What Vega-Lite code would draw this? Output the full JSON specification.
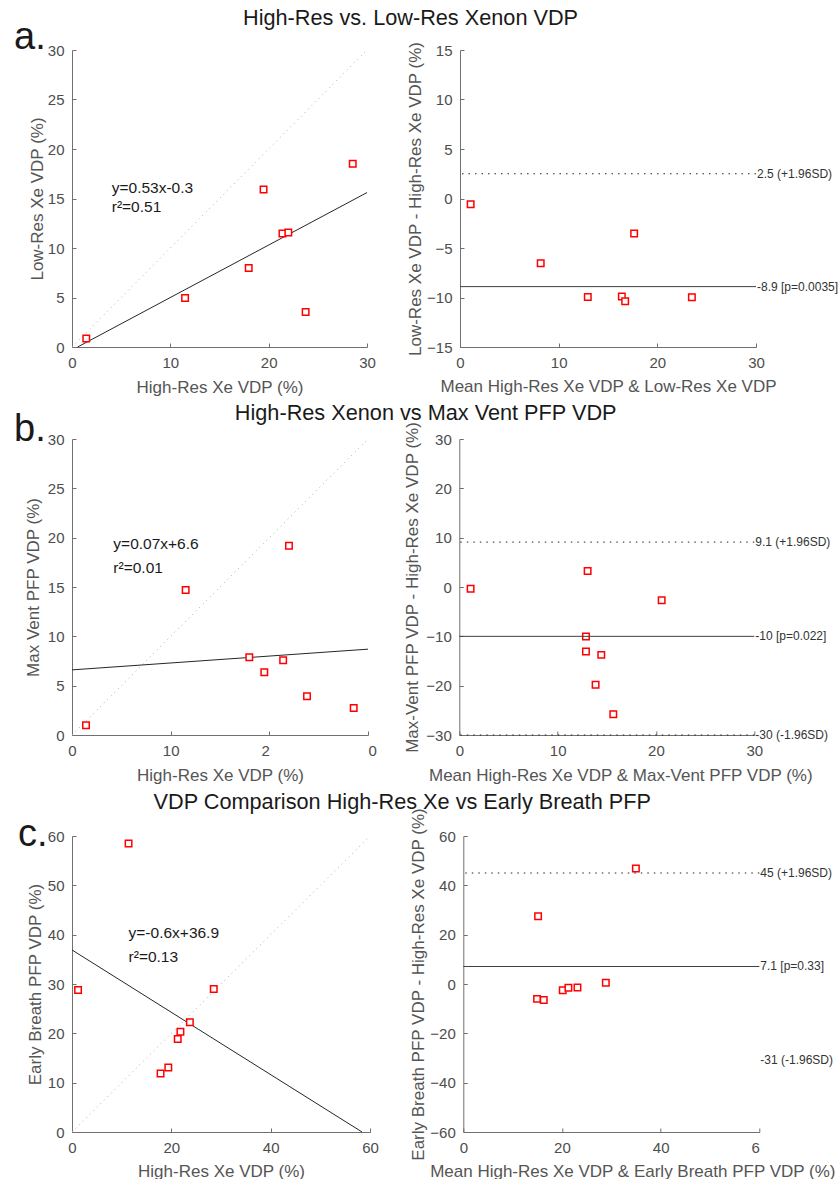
{
  "$schema": "https://vega.github.io/schema/vega-lite/v6.json",
  "padding": {"left": 14, "top": 8, "right": 0, "bottom": 0},
  "config": {
    "font": "Liberation Sans",
    "view": {"stroke": null},
    "axis": {
      "domainColor": "#707070", "tickColor": "#707070", "tickSize": -4,
      "labelColor": "#4d4d4d", "titleColor": "#555555",
      "labelFontSize": 15, "titleFontSize": 17, "titleFontWeight": "normal",
      "grid": false, "labelFlush": false, "labelOverlap": false, "labelPadding": 12
    },
    "axisX": {"titlePadding": 6.5},
    "axisY": {"titlePadding": 4},
    "title": {"fontWeight": "normal", "color": "#1a1a1a"},
    "text": {"font": "Liberation Sans"}
  },
  "datasets": {
    "identity_30": [{"x": 0, "y": 0}, {"x": 30, "y": 30}],
    "identity_60": [{"x": 0, "y": 0}, {"x": 60, "y": 60}],
    "xe_low": [
      {"high_res": 1.45, "low_res": 0.85}, {"high_res": 11.5, "low_res": 4.96},
      {"high_res": 17.97, "low_res": 7.99}, {"high_res": 19.48, "low_res": 15.9},
      {"high_res": 21.4, "low_res": 11.47}, {"high_res": 22.0, "low_res": 11.57},
      {"high_res": 23.76, "low_res": 3.54}, {"high_res": 28.55, "low_res": 18.5}
    ],
    "xe_low_fit": [{"x": 0.57, "y": 0}, {"x": 30, "y": 15.6}],
    "xe_low_stats": [{"equation": "y=0.53x-0.3", "r_squared": "r²=0.51"}],
    "xe_low_ba": [
      {"mean": 1.08, "diff": -0.58}, {"mean": 8.18, "diff": -6.54},
      {"mean": 12.95, "diff": -9.95}, {"mean": 16.4, "diff": -9.91},
      {"mean": 16.74, "diff": -10.38}, {"mean": 17.65, "diff": -3.54},
      {"mean": 23.5, "diff": -9.98}
    ],
    "xe_low_limits": [{"value": 2.5, "label": "2.5 (+1.96SD)"}],
    "xe_low_mean": [{"value": -8.9, "label": "-8.9 [p=0.0035]"}],
    "vent": [
      {"high_res": 1.42, "max_vent": 0.99}, {"high_res": 11.52, "max_vent": 14.7},
      {"high_res": 17.97, "max_vent": 7.87}, {"high_res": 19.49, "max_vent": 6.35},
      {"high_res": 21.4, "max_vent": 7.57}, {"high_res": 21.99, "max_vent": 19.19},
      {"high_res": 23.82, "max_vent": 3.92}, {"high_res": 28.55, "max_vent": 2.74}
    ],
    "vent_fit": [{"x": 0, "y": 6.6}, {"x": 30, "y": 8.7}],
    "vent_stats": [{"equation": "y=0.07x+6.6", "r_squared": "r²=0.01"}],
    "vent_ba": [
      {"mean": 1.15, "diff": -0.37}, {"mean": 13.05, "diff": 3.23},
      {"mean": 12.88, "diff": -10.02}, {"mean": 12.88, "diff": -13.08},
      {"mean": 14.44, "diff": -13.76}, {"mean": 13.86, "diff": -19.8},
      {"mean": 15.66, "diff": -25.8}, {"mean": 20.58, "diff": -2.68}
    ],
    "vent_limits": [{"value": 9.1, "label": "9.1 (+1.96SD)"}, {"value": -30, "label": "-30 (-1.96SD)"}],
    "vent_mean": [{"value": -10, "label": "-10 [p=0.022]"}],
    "early": [
      {"high_res": 1.22, "early_breath": 28.8}, {"high_res": 11.39, "early_breath": 58.5},
      {"high_res": 17.83, "early_breath": 11.86}, {"high_res": 19.39, "early_breath": 13.08},
      {"high_res": 21.29, "early_breath": 18.85}, {"high_res": 21.83, "early_breath": 20.34},
      {"high_res": 23.73, "early_breath": 22.24}, {"high_res": 28.54, "early_breath": 29.0}
    ],
    "early_fit": [{"x": 0, "y": 36.9}, {"x": 58.4, "y": 0}],
    "early_stats": [{"equation": "y=-0.6x+36.9", "r_squared": "r²=0.13"}],
    "early_ba": [
      {"mean": 34.98, "diff": 46.85}, {"mean": 15.16, "diff": 27.46},
      {"mean": 14.95, "diff": -6.03}, {"mean": 16.31, "diff": -6.44},
      {"mean": 20.16, "diff": -2.51}, {"mean": 21.31, "diff": -1.56},
      {"mean": 23.14, "diff": -1.42}, {"mean": 28.89, "diff": 0.47}
    ],
    "early_limit_lines": [{"value": 45, "label": "45 (+1.96SD)"}],
    "early_limit_labels": [{"value": 45, "label": "45 (+1.96SD)"}, {"value": -31, "label": "-31 (-1.96SD)"}],
    "early_mean": [{"value": 7.1, "label": "7.1 [p=0.33]"}]
  },
  "bounds": "full",
  "spacing": 7,
  "vconcat": [
    {
      "title": {"text": "High-Res vs. Low-Res Xenon VDP", "fontSize": 21.7, "anchor": "middle", "offset": -11, "dx": -15.5},
      "bounds": "flush",
      "spacing": 93,
      "hconcat": [
        {
          "title": {"text": "a.", "anchor": "start", "frame": "group", "fontSize": 38, "baseline": "alphabetic", "dx": -58, "offset": -44},
          "width": 295, "height": 297,
          "layer": [
            {
              "data": {"name": "identity_30"},
              "mark": {"type": "line", "color": "#b0b0b0", "strokeDash": [1, 4], "strokeWidth": 1},
              "encoding": {
                "x": {"field": "x", "type": "quantitative", "scale": {"domain": [0, 30], "nice": false},
                      "axis": {"title": "High-Res Xe VDP (%)", "values": [0, 10, 20, 30], "titlePadding": 9.5}},
                "y": {"field": "y", "type": "quantitative", "scale": {"domain": [0, 30], "nice": false},
                      "axis": {"title": "Low-Res Xe VDP (%)", "values": [0, 5, 10, 15, 20, 25, 30], "titlePadding": 1}}
              }
            },
            {
              "data": {"name": "xe_low_fit"},
              "mark": {"type": "line", "color": "#262626", "strokeWidth": 1},
              "encoding": {
                "x": {"field": "x", "type": "quantitative"},
                "y": {"field": "y", "type": "quantitative"}
              }
            },
            {
              "data": {"name": "xe_low"},
              "mark": {"type": "point", "shape": "square", "size": 42, "filled": true, "fill": "white", "stroke": "#ff0000", "strokeWidth": 1.5, "opacity": 1},
              "encoding": {
                "x": {"field": "high_res", "type": "quantitative"},
                "y": {"field": "low_res", "type": "quantitative"}
              }
            },
            {
              "data": {"name": "xe_low_stats"},
              "mark": {"type": "text", "align": "left", "baseline": "middle", "fontSize": 15.5, "color": "#1a1a1a"},
              "encoding": {"x": {"datum": 4.04, "type": "quantitative"}, "y": {"datum": 16.08, "type": "quantitative"}, "text": {"field": "equation"}}
            },
            {
              "data": {"name": "xe_low_stats"},
              "mark": {"type": "text", "align": "left", "baseline": "middle", "fontSize": 15.5, "color": "#1a1a1a"},
              "encoding": {"x": {"datum": 4.04, "type": "quantitative"}, "y": {"datum": 14.13, "type": "quantitative"}, "text": {"field": "r_squared"}}
            }
          ]
        },
        {
          "width": 296, "height": 297,
          "layer": [
            {
              "data": {"name": "xe_low_ba"},
              "mark": {"type": "point", "shape": "square", "size": 42, "filled": true, "fill": "white", "stroke": "#ff0000", "strokeWidth": 1.5, "opacity": 1},
              "encoding": {
                "x": {"field": "mean", "type": "quantitative", "scale": {"domain": [0, 30], "nice": false},
                      "axis": {"title": "Mean High-Res Xe VDP & Low-Res Xe VDP", "values": [0, 10, 20, 30], "titlePadding": 8}},
                "y": {"field": "diff", "type": "quantitative", "scale": {"domain": [-15, 15], "nice": false},
                      "axis": {"title": "Low-Res Xe VDP - High-Res Xe VDP (%)", "values": [-15, -10, -5, 0, 5, 10, 15], "titlePadding": 2}}
              }
            },
            {
              "data": {"name": "xe_low_limits"},
              "mark": {"type": "rule", "color": "#262626", "strokeDash": [1.5, 5], "strokeWidth": 1},
              "encoding": {"y": {"field": "value", "type": "quantitative"}}
            },
            {
              "data": {"name": "xe_low_mean"},
              "mark": {"type": "rule", "color": "#404040", "strokeWidth": 1},
              "encoding": {"y": {"field": "value", "type": "quantitative"}}
            },
            {
              "data": {"name": "xe_low_limits"},
              "mark": {"type": "text", "align": "left", "baseline": "middle", "dx": 1, "fontSize": 12, "color": "#333333"},
              "encoding": {"x": {"datum": 30, "type": "quantitative"}, "y": {"field": "value", "type": "quantitative"}, "text": {"field": "label"}}
            },
            {
              "data": {"name": "xe_low_mean"},
              "mark": {"type": "text", "align": "left", "baseline": "middle", "dx": 1, "fontSize": 12, "color": "#333333"},
              "encoding": {"x": {"datum": 30, "type": "quantitative"}, "y": {"field": "value", "type": "quantitative"}, "text": {"field": "label"}}
            }
          ]
        }
      ]
    },
    {
      "title": {"text": "High-Res Xenon vs Max Vent PFP VDP", "fontSize": 21.7, "anchor": "middle", "offset": -14, "dx": 3.5},
      "bounds": "flush",
      "spacing": 91.3,
      "hconcat": [
        {
          "title": {"text": "b.", "anchor": "start", "frame": "group", "fontSize": 38, "baseline": "alphabetic", "dx": -58, "offset": -47},
          "width": 296, "height": 296,
          "layer": [
            {
              "data": {"name": "identity_30"},
              "mark": {"type": "line", "color": "#b0b0b0", "strokeDash": [1, 4], "strokeWidth": 1},
              "encoding": {
                "x": {"field": "x", "type": "quantitative", "scale": {"domain": [0, 30], "nice": false},
                      "axis": {"title": "High-Res Xe VDP (%)", "values": [0, 10, 20, 30], "titlePadding": 9.5,
                               "labelExpr": "datum.value == 20 ? '2' : datum.value == 30 ? '0' : datum.label",
                               "labelAlign": {"condition": [{"test": "datum.value == 20", "value": "right"}, {"test": "datum.value == 30", "value": "left"}], "value": "center"}}},
                "y": {"field": "y", "type": "quantitative", "scale": {"domain": [0, 30], "nice": false},
                      "axis": {"title": "Max Vent PFP VDP (%)", "values": [0, 5, 10, 15, 20, 25, 30], "titlePadding": 5}}
              }
            },
            {
              "data": {"name": "vent_fit"},
              "mark": {"type": "line", "color": "#262626", "strokeWidth": 1},
              "encoding": {
                "x": {"field": "x", "type": "quantitative"},
                "y": {"field": "y", "type": "quantitative"}
              }
            },
            {
              "data": {"name": "vent"},
              "mark": {"type": "point", "shape": "square", "size": 42, "filled": true, "fill": "white", "stroke": "#ff0000", "strokeWidth": 1.5, "opacity": 1},
              "encoding": {
                "x": {"field": "high_res", "type": "quantitative"},
                "y": {"field": "max_vent", "type": "quantitative"}
              }
            },
            {
              "data": {"name": "vent_stats"},
              "mark": {"type": "text", "align": "left", "baseline": "middle", "fontSize": 15.5, "color": "#1a1a1a"},
              "encoding": {"x": {"datum": 4.19, "type": "quantitative"}, "y": {"datum": 19.36, "type": "quantitative"}, "text": {"field": "equation"}}
            },
            {
              "data": {"name": "vent_stats"},
              "mark": {"type": "text", "align": "left", "baseline": "middle", "fontSize": 15.5, "color": "#1a1a1a"},
              "encoding": {"x": {"datum": 4.19, "type": "quantitative"}, "y": {"datum": 16.9, "type": "quantitative"}, "text": {"field": "r_squared"}}
            }
          ]
        },
        {
          "width": 295, "height": 296,
          "layer": [
            {
              "data": {"name": "vent_ba"},
              "mark": {"type": "point", "shape": "square", "size": 42, "filled": true, "fill": "white", "stroke": "#ff0000", "strokeWidth": 1.5, "opacity": 1},
              "encoding": {
                "x": {"field": "mean", "type": "quantitative", "scale": {"domain": [0, 30], "nice": false},
                      "axis": {"title": "Mean High-Res Xe VDP & Max-Vent PFP VDP (%)", "values": [0, 10, 20, 30], "titleX": 161, "titlePadding": 9.5}},
                "y": {"field": "diff", "type": "quantitative", "scale": {"domain": [-30, 30], "nice": false},
                      "axis": {"title": "Max-Vent PFP VDP - High-Res Xe VDP (%)", "values": [-30, -20, -10, 0, 10, 20, 30], "titlePadding": 4}}
              }
            },
            {
              "data": {"name": "vent_limits"},
              "mark": {"type": "rule", "color": "#262626", "strokeDash": [1.5, 5], "strokeWidth": 1},
              "encoding": {"y": {"field": "value", "type": "quantitative"}}
            },
            {
              "data": {"name": "vent_mean"},
              "mark": {"type": "rule", "color": "#404040", "strokeWidth": 1},
              "encoding": {"y": {"field": "value", "type": "quantitative"}}
            },
            {
              "data": {"name": "vent_limits"},
              "mark": {"type": "text", "align": "left", "baseline": "middle", "dx": 1, "fontSize": 12, "color": "#333333"},
              "encoding": {"x": {"datum": 30, "type": "quantitative"}, "y": {"field": "value", "type": "quantitative"}, "text": {"field": "label"}}
            },
            {
              "data": {"name": "vent_mean"},
              "mark": {"type": "text", "align": "left", "baseline": "middle", "dx": 1, "fontSize": 12, "color": "#333333"},
              "encoding": {"x": {"datum": 30, "type": "quantitative"}, "y": {"field": "value", "type": "quantitative"}, "text": {"field": "label"}}
            }
          ]
        }
      ]
    },
    {
      "title": {"text": "VDP Comparison High-Res Xe vs Early Breath PFP", "fontSize": 21.7, "anchor": "middle", "offset": -6, "dx": -24.5},
      "bounds": "flush",
      "spacing": 93.3,
      "hconcat": [
        {
          "title": {"text": "c.", "anchor": "start", "frame": "group", "fontSize": 38, "baseline": "alphabetic", "dx": -54, "offset": -55},
          "width": 298, "height": 296,
          "layer": [
            {
              "data": {"name": "identity_60"},
              "mark": {"type": "line", "color": "#b0b0b0", "strokeDash": [1, 4], "strokeWidth": 1},
              "encoding": {
                "x": {"field": "x", "type": "quantitative", "scale": {"domain": [0, 60], "nice": false},
                      "axis": {"title": "High-Res Xe VDP (%)", "values": [0, 20, 40, 60], "titlePadding": 8}},
                "y": {"field": "y", "type": "quantitative", "scale": {"domain": [0, 60], "nice": false},
                      "axis": {"title": "Early Breath PFP VDP (%)", "values": [0, 10, 20, 30, 40, 50, 60], "titlePadding": 3}}
              }
            },
            {
              "data": {"name": "early_fit"},
              "mark": {"type": "line", "color": "#262626", "strokeWidth": 1},
              "encoding": {
                "x": {"field": "x", "type": "quantitative"},
                "y": {"field": "y", "type": "quantitative"}
              }
            },
            {
              "data": {"name": "early"},
              "mark": {"type": "point", "shape": "square", "size": 42, "filled": true, "fill": "white", "stroke": "#ff0000", "strokeWidth": 1.5, "opacity": 1},
              "encoding": {
                "x": {"field": "high_res", "type": "quantitative"},
                "y": {"field": "early_breath", "type": "quantitative"}
              }
            },
            {
              "data": {"name": "early_stats"},
              "mark": {"type": "text", "align": "left", "baseline": "middle", "fontSize": 15.5, "color": "#1a1a1a"},
              "encoding": {"x": {"datum": 11.39, "type": "quantitative"}, "y": {"datum": 40.3, "type": "quantitative"}, "text": {"field": "equation"}}
            },
            {
              "data": {"name": "early_stats"},
              "mark": {"type": "text", "align": "left", "baseline": "middle", "fontSize": 15.5, "color": "#1a1a1a"},
              "encoding": {"x": {"datum": 11.39, "type": "quantitative"}, "y": {"datum": 35.45, "type": "quantitative"}, "text": {"field": "r_squared"}}
            }
          ]
        },
        {
          "width": 296, "height": 296,
          "layer": [
            {
              "data": {"name": "early_ba"},
              "mark": {"type": "point", "shape": "square", "size": 42, "filled": true, "fill": "white", "stroke": "#ff0000", "strokeWidth": 1.5, "opacity": 1},
              "encoding": {
                "x": {"field": "mean", "type": "quantitative", "scale": {"domain": [0, 60], "nice": false},
                      "axis": {"title": "Mean High-Res Xe VDP & Early Breath PFP VDP (%)", "values": [0, 20, 40, 60], "titleX": 169, "titlePadding": 8,
                               "labelExpr": "datum.value == 60 ? '6' : datum.label",
                               "labelAlign": {"condition": {"test": "datum.value == 60", "value": "right"}, "value": "center"}}},
                "y": {"field": "diff", "type": "quantitative", "scale": {"domain": [-60, 60], "nice": false},
                      "axis": {"title": "Early Breath PFP VDP - High-Res Xe VDP (%)", "values": [-60, -40, -20, 0, 20, 40, 60], "titlePadding": 2}}
              }
            },
            {
              "data": {"name": "early_limit_lines"},
              "mark": {"type": "rule", "color": "#262626", "strokeDash": [1.5, 5], "strokeWidth": 1},
              "encoding": {"y": {"field": "value", "type": "quantitative"}}
            },
            {
              "data": {"name": "early_mean"},
              "mark": {"type": "rule", "color": "#404040", "strokeWidth": 1},
              "encoding": {"y": {"field": "value", "type": "quantitative"}}
            },
            {
              "data": {"name": "early_limit_labels"},
              "mark": {"type": "text", "align": "left", "baseline": "middle", "dx": 1, "fontSize": 12, "color": "#333333"},
              "encoding": {"x": {"datum": 60, "type": "quantitative"}, "y": {"field": "value", "type": "quantitative"}, "text": {"field": "label"}}
            },
            {
              "data": {"name": "early_mean"},
              "mark": {"type": "text", "align": "left", "baseline": "middle", "dx": 1, "fontSize": 12, "color": "#333333"},
              "encoding": {"x": {"datum": 60, "type": "quantitative"}, "y": {"field": "value", "type": "quantitative"}, "text": {"field": "label"}}
            }
          ]
        }
      ]
    }
  ]
}
